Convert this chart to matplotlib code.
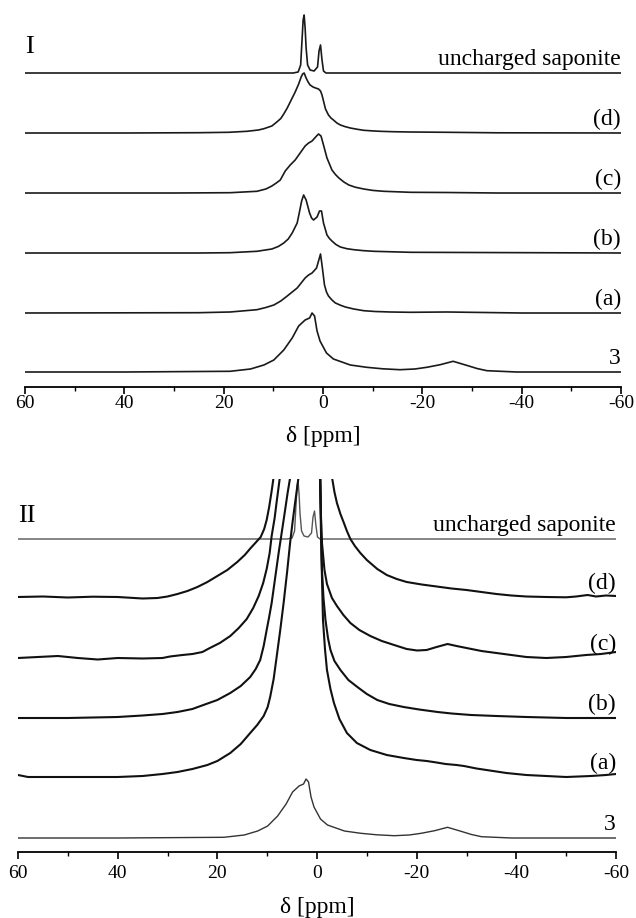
import matplotlib
matplotlib.use("Agg")
import matplotlib.pyplot as plt
from matplotlib.ticker import MultipleLocator

plt.rcParams['font.family'] = ['Liberation Serif', 'DejaVu Serif']
plt.rcParams['axes.unicode_minus'] = False

# ---------------- data (chemical shift in ppm, intensity in a.u.) ----------------
# spectra drawn at the same scale in both panels
unch_ppm = [60, 6.0, 5.0, 4.5, 4.2, 4.0, 3.8, 3.6, 3.4, 3.1, 2.6, 1.8, 1.1, 0.8, 0.5, 0.2, -0.1, -0.6, -60]
unch_int = [0, 0, 1, 8, 35, 53, 58, 45, 25, 8, 3, 2, 6, 22, 28, 13, 2, 0, 0]

s3_ppm = [60, 40, 25, 18.7, 14.6, 11.9, 9.9, 7.9, 6.2, 4.9, 3.6, 2.7, 2.2, 1.7, 1.2, 0.6, -0.7,
          -2.1, -3.4, -5.5, -8.8, -12, -15.5, -18.5, -20.9, -23.6, -26.2, -28.9, -31, -33, -39, -60]
s3_int = [0, 0, 0.5, 0.7, 3, 7, 12, 22, 34, 46, 52, 54, 59, 56, 41, 31, 19,
          13, 10.7, 7, 4.7, 3.2, 2.3, 3, 4.7, 7.3, 10.7, 6.7, 3.5, 1.3, 0, 0]

# panel I
d1_ppm = [60, 40, 25, 19, 15.3, 13, 11.9, 10.3, 9.3, 8.5, 7.9, 7.2, 6.6, 5.6, 4.9, 4.4, 4.1, 3.8,
          3.4, 3.0, 2.6, 2.0, 1.5, 0.9, 0.5, 0.2, 0.0, -0.5, -1.1, -1.6, -2.1, -2.8, -3.5, -4.5,
          -5.5, -6.8, -8.2, -10, -11.5, -14, -17.6, -25, -35, -60]
d1_int = [0, 0, 0.3, 0.7, 1.7, 3, 4.3, 7, 11, 14.5, 19, 25, 31, 41, 49, 56, 59, 60,
          55, 51, 48, 46, 45, 44, 42, 38, 34, 24, 18, 15, 13, 10, 8, 6.3,
          5, 3.8, 2.7, 2.1, 1.7, 1.3, 1, 0.7, 0.2, 0]

c1_ppm = [60, 30, 18.7, 13.3, 11.5, 10.3, 9.4, 8.6, 7.6, 6.6, 5.6, 4.6, 3.6, 2.9, 2.2, 1.3, 0.9,
          0.4, -0.1, -0.8, -1.8, -2.5, -3.2, -4.2, -5.2, -6.5, -8.2, -10, -12.2, -17.6, -25, -35, -60]
c1_int = [0, 0, 0.3, 1.7, 4, 7, 10, 13, 22, 28, 33, 40, 47, 50, 52, 57, 59,
          57, 48, 35, 23, 18.5, 15, 11, 8, 5.8, 4, 2.6, 1.7, 0.7, 0.5, 0, 0]

b1_ppm = [60, 25, 18.7, 13.3, 10.3, 9.0, 7.9, 7.0, 6.2, 5.2, 4.7, 4.3, 3.9, 3.4, 2.7, 2.3, 1.9,
          1.2, 0.7, 0.3, -0.1, -0.8, -1.3, -1.8, -2.6, -3.5, -4.8, -6.2, -8, -10.2, -17.6, -60]
b1_int = [0, 0, 0.3, 1.7, 4, 6.5, 10, 14, 20, 30, 42, 52, 58, 53, 40, 35, 33,
          36, 42, 42, 30, 18, 14.5, 12, 8.5, 6, 4.3, 3.3, 2.4, 1.7, 0.7, 0]

a1_ppm = [60, 25, 18.7, 13.3, 11.5, 9.9, 8.5, 7.2, 6.2, 5.2, 4.4, 3.6, 2.9, 2.2, 1.3, 0.9, 0.5,
          0.2, -0.3, -0.7, -1.1, -1.8, -2.5, -3.5, -4.5, -6.2, -8.2, -10.5, -13.6, -17.6, -25,
          -40, -60]
a1_int = [0, 0.3, 1, 3.3, 5.5, 8, 12, 17, 21, 25, 30, 35, 38, 40, 45, 52, 59,
          48, 28, 21, 17, 13, 10, 7.8, 6, 4, 2.3, 1.5, 1, 0.7, 1,
          0, 0]

# panel II (vertically expanded, off-scale centre)
d2_ppm = [60, 55, 50, 45, 40, 35, 32, 30, 28, 26, 24, 22, 20, 18, 16, 14.5, 13.3, 12.2, 11.3,
          10.6, 10.1, 9.6, 9.1, 8.7, 8.2, 7.5, -1.8, -2.6, -3.0, -3.5, -4.0, -4.7, -5.4, -6.0,
          -6.7, -7.6, -8.7, -10, -12.1, -14, -16, -18, -21, -24, -27, -30, -33, -36, -39, -42,
          -46, -50, -52, -54.3, -56, -58, -60]
d2_int = [0, 0.5, -0.5, 0.3, 0, -1.5, -1, 0.5, 3, 6, 10, 15, 21, 27, 35, 42, 49, 55, 60,
          68, 77, 90, 106, 120, 150, 300, 300, 150, 120, 105, 94, 83, 74, 66,
          58, 51, 44, 37, 28, 22, 18, 15, 12.5, 10.5, 8.5, 7, 5, 3, 1.5, 0.5,
          0, -0.3, 0.5, 2, 0.5, 1.5, 1]

c2_ppm = [60, 56, 52, 48, 44, 40, 35, 31, 29.5, 27, 25, 23, 21.5, 19.5, 17.4, 15.7, 14.1, 12.8,
          11.7, 10.8, 10.1, 9.5, 9.1, 8.5, 8.1, 7.6, 7.2, 6.0, -0.3, -0.5, -0.8, -1.0, -1.5,
          -2.0, -3.0, -4.0, -5.3, -6.7, -8.5, -10.7, -13, -16.1, -18, -20.1, -22, -24, -26.2,
          -28, -30, -33, -36, -39, -42, -46, -50, -54, -57, -60]
c2_int = [0, 1, 2, 0, -1.5, 0, -0.5, 0, 1.5, 3, 4, 6, 10, 15, 22, 30, 39, 50,
          62, 75, 89, 105, 122, 140, 156, 175, 190, 400, 400, 200, 140, 115, 88,
          74, 60, 52, 43, 35, 28, 22, 17, 12, 9, 7.5, 8, 11, 14,
          12, 10, 7, 5, 3, 1, 0, 1, 3, 4, 6]

b2_ppm = [60, 50, 45, 40, 35, 31, 28, 25, 22.8, 20, 17.4, 15.3, 13.4, 12.3, 11.4, 10.7, 10.1,
          9.6, 9.1, 8.4, 7.7, 7.0, 6.4, 5.9, 5.4, 4.5, -0.2, -0.6, -0.8, -1.0, -1.3, -1.7, -2.2,
          -2.7, -3.5, -4.7, -6.3, -8.1, -10, -12.1, -14.5, -17.4, -20.5, -24.2, -27, -30.9, -36,
          -42, -50, -60]
b2_int = [0, 0, 0.5, 1, 2.5, 4, 6, 9, 13, 18, 25, 32, 41, 49, 58, 72, 88,
          101, 115, 140, 165, 188, 208, 225, 240, 500, 500, 240, 185, 148, 120, 98, 80,
          68, 57, 48, 38, 31, 24, 18, 14, 11, 8.5, 6, 4.5, 3, 2,
          1, 0, 0]

a2_ppm = [60, 59, 58, 50, 40, 35, 31, 28, 25, 22, 20, 17.4, 15.3, 13.4, 12, 10.7, 9.9, 9.4, 8.7,
          8.1, 7.4, 6.7, 6.0, 5.4, 4.9, 4.4, 3.7, 3.0, -0.2, -0.7, -0.9, -1.2, -1.6, -2.0, -2.7,
          -3.4, -4.5, -6.0, -8, -10.7, -14, -17.4, -20, -22, -24, -25.8, -28, -29.5, -32, -34,
          -38, -42, -46, -50, -55, -58, -60]
a2_int = [2, 1, 0, 0, 0, 1, 3, 5, 8, 12, 16, 24, 33, 44, 52, 61, 70, 80, 98,
          120, 146, 174, 205, 234, 255, 274, 300, 600, 600, 300, 220, 157, 128, 107, 88,
          74, 58, 44, 34, 27, 22, 19, 17, 16, 14.5, 13, 12, 11, 8.5, 7,
          4, 2, 1, 0, 1, 2, 3]

labels = ["uncharged saponite", "(d)", "(c)", "(b)", "(a)", "3"]
xticks = [60, 40, 20, 0, -20, -40, -60]
xtick_labels = ["60", "40", "20", "0", "-20", "-40", "-60"]

panel1 = [(unch_ppm, unch_int), (d1_ppm, d1_int), (c1_ppm, c1_int),
          (b1_ppm, b1_int), (a1_ppm, a1_int), (s3_ppm, s3_int)]
panel2 = [(unch_ppm, unch_int), (d2_ppm, d2_int), (c2_ppm, c2_int),
          (b2_ppm, b2_int), (a2_ppm, a2_int), (s3_ppm, s3_int)]

# ---------------- layout ----------------
W, H = 636, 918
fig = plt.figure(figsize=(W / 100, H / 100), dpi=100)
ax1 = fig.add_axes([25 / W, (H - 387) / H, 596 / W, 382 / H])
ax2 = fig.add_axes([18 / W, (H - 852) / H, 598 / W, 373 / H])

offsets1 = [314, 254, 194, 134, 74, 15]
offsets2 = [313, 255, 194, 134, 75, 14]
widths2 = [1.0, 1.5, 1.5, 1.5, 1.5, 1.0]
colors2 = ['#555555', '#111111', '#111111', '#111111', '#111111', '#333333']


def style(ax, ytop, tickpad, labelpad):
    ax.set_xlim(60, -60)
    ax.set_ylim(0, ytop)
    for s in ['left', 'right', 'top']:
        ax.spines[s].set_visible(False)
    ax.spines['bottom'].set_linewidth(1.3)
    ax.set_yticks([])
    ax.set_xticks(xticks)
    ax.set_xticklabels(xtick_labels, fontsize=14)
    ax.xaxis.set_minor_locator(MultipleLocator(10))
    ax.tick_params(axis='x', which='major', direction='out', length=5, width=1.2, pad=tickpad)
    ax.tick_params(axis='x', which='minor', direction='out', length=3, width=1.0)
    ax.set_xlabel("δ [ppm]", fontsize=17, labelpad=labelpad)
    ax.patch.set_alpha(0)


style(ax1, 382, 1, 10)
style(ax2, 373, 4.5, 11)

for (x, y), off, lab in zip(panel1, offsets1, labels):
    ax1.plot(x, [off + v for v in y], color='#1a1a1a', lw=1.2)
    ax1.text(-60, off + 3, lab, ha='right', va='bottom', fontsize=17)

for (x, y), off, lab, lw, c in zip(panel2, offsets2, labels, widths2, colors2):
    ax2.plot(x, [off + v for v in y], color=c, lw=lw)
    ax2.text(-60, off + 3, lab, ha='right', va='bottom', fontsize=17)

ax1.text(60, 334, "I", ha='left', va='baseline', fontsize=19)
ax2.text(60, 330, "II", ha='left', va='baseline', fontsize=19)

fig.savefig("out.png", dpi=100)
